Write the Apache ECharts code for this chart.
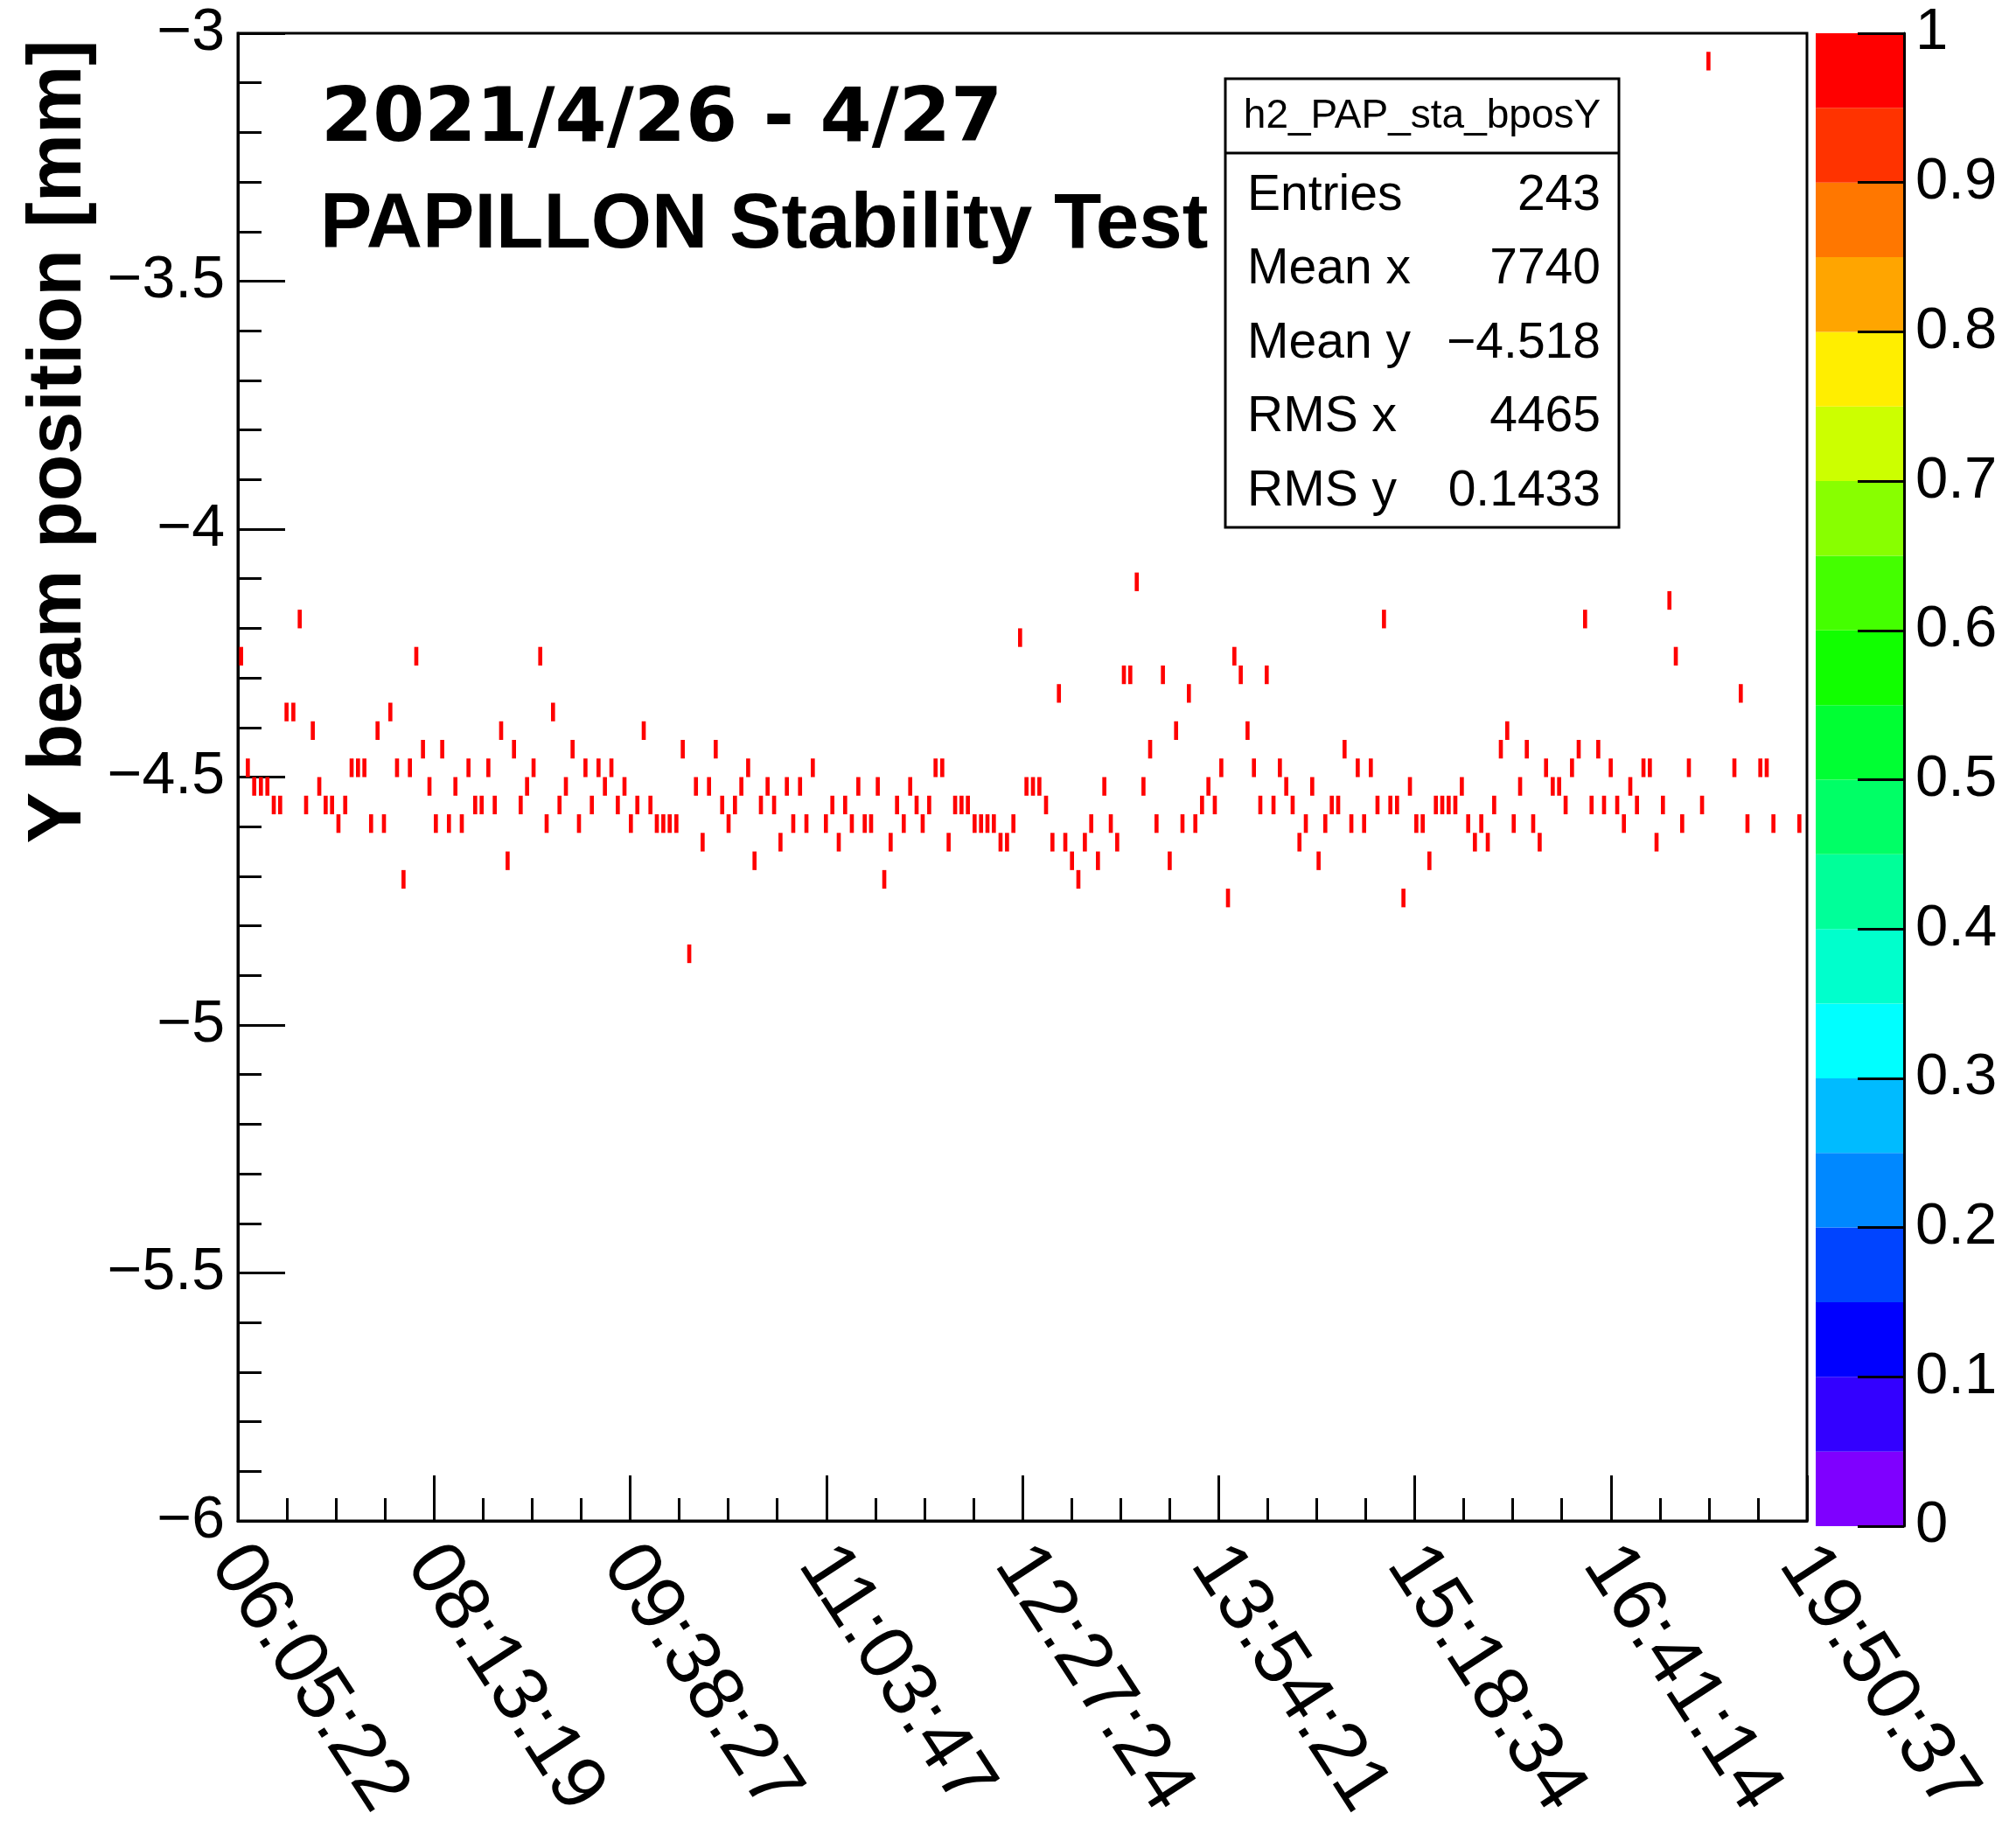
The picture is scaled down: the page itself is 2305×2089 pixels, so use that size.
<!DOCTYPE html>
<html>
<head>
<meta charset="utf-8">
<title>PAPILLON Stability Test</title>
<script src="https://cdn.jsdelivr.net/npm/echarts@6/dist/echarts.min.js"></script>
<style>
html,body{margin:0;padding:0;background:#fff;}
#main{width:2305px;height:2089px;}
</style>
</head>
<body>
<div id="main"></div>
<script>
//x轴的时间标签（8等分）
var timeLabels = ['06:05:22','08:13:19','09:38:27','11:03:47','12:27:24','13:54:21','15:18:34','16:41:14','19:50:37'];
var xMax = 15480;
var xStep = 1935;
var binW = 40;       //x方向的bin宽度
var binH = 0.0375;   //y方向的bin宽度 [mm]

//每个entry的x值
var entryX = [
	32,98,161,227,291,354,417,480,547,610,673,739,803,866,929,992,1059,1122,1185,1248,1314,1378,1441,1504,1570,1634,1697,1760,1826,1890,1953,2016,2082,2146,2209,
	2275,2341,2405,2471,2534,2597,2661,2724,2790,2853,2917,2983,3046,3109,3173,3236,3302,3365,3429,3492,3558,3621,3685,3748,3814,3877,3941,4004,4070,4133,4197,4260,4326,4389,4453,
	4519,4585,4648,4714,4778,4841,4904,4967,5034,5097,5160,5226,5290,5353,5416,5479,5546,5609,5672,5801,5865,5928,5991,6057,6121,6184,6247,6313,6377,6440,6503,6569,6633,6696,
	6756,6820,6883,6949,7012,7076,7139,7202,7268,7332,7395,7458,7524,7588,7651,7717,7780,7844,7907,7973,8036,8100,8163,8229,8292,8356,8419,8485,8548,8612,8675,8741,8804,8868,8934,
	9000,9063,9126,9193,9256,9319,9382,9446,9512,9575,9638,9702,9768,9831,9894,9961,10024,10087,10150,10217,10280,10343,10406,10473,10536,10599,10662,10728,10792,10855,10918,10985,11048,11111,11177,
	11243,11307,11370,11436,11499,11563,11626,11689,11755,11819,11882,11945,12011,12075,12138,12204,12267,12331,12394,12460,12523,12587,12650,12716,12779,12843,12906,12972,13035,13099,13162,13228,13291,13355,13421,
	13478,13544,13608,13674,13737,13803,13867,13930,13996,14059,14123,14186,14249,14315,14445,14508,14764,14827,14893,15020,15083,15149,15405
];
//每个entry的Y beam position (bin中心)
var bposY = [
	-4.25625,-4.48125,-4.51875,-4.51875,-4.51875,-4.55625,-4.55625,-4.36875,-4.36875,-4.18125,-4.55625,-4.40625,-4.51875,-4.55625,-4.55625,-4.59375,-4.55625,-4.48125,-4.48125,-4.48125,-4.59375,-4.40625,-4.59375,-4.36875,-4.48125,-4.70625,-4.48125,-4.25625,-4.44375,-4.51875,-4.59375,-4.44375,-4.59375,-4.51875,-4.59375,
	-4.48125,-4.55625,-4.55625,-4.48125,-4.55625,-4.40625,-4.66875,-4.44375,-4.55625,-4.51875,-4.48125,-4.25625,-4.59375,-4.36875,-4.55625,-4.51875,-4.44375,-4.59375,-4.48125,-4.55625,-4.48125,-4.51875,-4.48125,-4.55625,-4.51875,-4.59375,-4.55625,-4.40625,-4.55625,-4.59375,-4.59375,-4.59375,-4.59375,-4.44375,-4.85625,
	-4.51875,-4.63125,-4.51875,-4.44375,-4.55625,-4.59375,-4.55625,-4.51875,-4.48125,-4.66875,-4.55625,-4.51875,-4.55625,-4.63125,-4.51875,-4.59375,-4.51875,-4.59375,-4.48125,-4.59375,-4.55625,-4.63125,-4.55625,-4.59375,-4.51875,-4.59375,-4.59375,-4.51875,-4.70625,-4.63125,-4.55625,-4.59375,-4.51875,-4.55625,
	-4.59375,-4.55625,-4.48125,-4.48125,-4.63125,-4.55625,-4.55625,-4.55625,-4.59375,-4.59375,-4.59375,-4.59375,-4.63125,-4.63125,-4.59375,-4.21875,-4.51875,-4.51875,-4.51875,-4.55625,-4.63125,-4.33125,-4.63125,-4.66875,-4.70625,-4.63125,-4.59375,-4.66875,-4.51875,-4.59375,-4.63125,-4.29375,-4.29375,-4.10625,-4.51875,
	-4.44375,-4.59375,-4.29375,-4.66875,-4.40625,-4.59375,-4.33125,-4.59375,-4.55625,-4.51875,-4.55625,-4.48125,-4.74375,-4.25625,-4.29375,-4.40625,-4.48125,-4.55625,-4.29375,-4.55625,-4.48125,-4.51875,-4.55625,-4.63125,-4.59375,-4.51875,-4.66875,-4.59375,-4.55625,-4.55625,-4.44375,-4.59375,-4.48125,-4.59375,-4.48125,
	-4.55625,-4.18125,-4.55625,-4.55625,-4.74375,-4.51875,-4.59375,-4.59375,-4.66875,-4.55625,-4.55625,-4.55625,-4.55625,-4.51875,-4.59375,-4.63125,-4.59375,-4.63125,-4.55625,-4.44375,-4.40625,-4.59375,-4.51875,-4.44375,-4.59375,-4.63125,-4.48125,-4.51875,-4.51875,-4.55625,-4.48125,-4.44375,-4.18125,-4.55625,-4.44375,
	-4.55625,-4.48125,-4.55625,-4.59375,-4.51875,-4.55625,-4.48125,-4.48125,-4.63125,-4.55625,-4.14375,-4.25625,-4.59375,-4.48125,-4.55625,-3.05625,-4.48125,-4.33125,-4.59375,-4.48125,-4.48125,-4.59375,-4.59375
];
//调色板（从下到上）
var paletteLevels = [0,0.05,0.1,0.15,0.2,0.25,0.3,0.35,0.4,0.45,0.5,0.55,0.6,0.65,0.7,0.75,0.8,0.85,0.9,0.95,1];
var paletteColors = ['#7f00ff','#3300ff','#0000ff','#0044ff','#0088ff','#00bbff','#00ffff','#00ffcc','#00ff99','#00ff66',
	'#00ff33','#11ff00','#44ff00','#88ff00','#ccff00','#ffee00','#ffa500','#ff7700','#ff3300','#ff0000'];
//统计框
var statTitle = 'h2_PAP_sta_bposY';
var statNames = ['Entries','Mean x','Mean y','RMS x','RMS y'];
var statValues = ['243','7740','\u22124.518','4465','0.1433'];

var font = 'Liberation Sans, Arial, Helvetica, sans-serif';
var points = entryX.map(function(x,i){ return [x, bposY[i]] });
var bands = paletteColors.map(function(c,i){ return [paletteLevels[i], paletteLevels[i+1], i] });

var chart = echarts.init(document.getElementById('main'));

var graphics = [];
graphics.push({type:'text', x:367, y:139, style:{text:'2021/4/26 - 4/27', font:'bold 85px DejaVu Sans', fill:'#000', verticalAlign:'middle'}, z:10});
graphics.push({type:'text', x:366, y:258, style:{text:'PAPILLON Stability Test', font:'bold 89px ' + font, fill:'#000', verticalAlign:'middle'}, z:10});
graphics.push({type:'text', x:68, y:505, rotation:Math.PI/2, style:{text:'Y beam position [mm]', font:'bold 88px ' + font, fill:'#000', align:'center', verticalAlign:'middle'}, z:10});
//统计框
graphics.push({type:'rect', shape:{x:1401, y:90, width:450, height:513}, style:{fill:'#fff', stroke:'#000', lineWidth:3}, z:10});
graphics.push({type:'line', shape:{x1:1401, y1:175, x2:1851, y2:175}, style:{stroke:'#000', lineWidth:3}, z:11});
graphics.push({type:'text', x:1626, y:133, style:{text:statTitle, font:'46px ' + font, fill:'#000', align:'center', verticalAlign:'middle'}, z:11});
statNames.forEach(function(name,i){
	var cy = 224 + i*84.5;
	graphics.push({type:'text', x:1426, y:cy, style:{text:name, font:'57px ' + font, fill:'#000', verticalAlign:'middle'}, z:11});
	graphics.push({type:'text', x:1830, y:cy, style:{text:statValues[i], font:'57px ' + font, fill:'#000', align:'right', verticalAlign:'middle'}, z:11});
});

chart.setOption({
	backgroundColor:'#fff',
	animation:false,
	grid:[
		{left:272, right:239, top:38, bottom:344, show:true, borderColor:'#000', borderWidth:3, backgroundColor:'transparent'},
		{left:2076, right:128, top:38, bottom:344}
	],
	xAxis:[{
		type:'value', gridIndex:0, min:0, max:xMax, interval:xStep,
		axisLine:{show:true, onZero:false, lineStyle:{color:'#000', width:3}},
		axisTick:{show:true, inside:true, length:52, lineStyle:{color:'#000', width:3}},
		minorTick:{show:true, splitNumber:4, length:26, lineStyle:{color:'#000', width:3}},
		splitLine:{show:false},
		axisLabel:{
			rotate:-57, margin:28, color:'#000', fontSize:88, fontFamily:font,
			verticalAlign:'top', lineHeight:30,
			formatter:function(v){ return timeLabels[Math.round(v/xStep)] }
		}
	},{
		type:'value', gridIndex:1, min:0, max:1, show:false
	}],
	yAxis:[{
		type:'value', gridIndex:0, min:-6, max:-3, interval:0.5,
		axisLine:{show:true, onZero:false, lineStyle:{color:'#000', width:3}},
		axisTick:{show:true, inside:true, length:54, lineStyle:{color:'#000', width:3}},
		minorTick:{show:true, splitNumber:5, length:27, lineStyle:{color:'#000', width:3}},
		splitLine:{show:false},
		axisLabel:{
			margin:15, color:'#000', fontSize:68, fontFamily:font,
			formatter:function(v){ return String(v).replace('-','\u2212') }
		}
	},{
		//调色板的刻度放在色条之上
		type:'value', gridIndex:1, min:0, max:1, interval:0.1, position:'right', z:5,
		axisLine:{show:true, onZero:false, lineStyle:{color:'#000', width:3}},
		axisTick:{show:true, inside:true, length:53, lineStyle:{color:'#000', width:3}},
		splitLine:{show:false},
		axisLabel:{margin:13, color:'#000', fontSize:67, fontFamily:font}
	}],
	series:[{
		type:'custom',
		xAxisIndex:0, yAxisIndex:0,
		data:points,
		clip:true,
		renderItem:function(params,api){
			var x = api.value(0), y = api.value(1);
			var p1 = api.coord([x - binW/2, y + binH/2]);
			var p2 = api.coord([x + binW/2, y - binH/2]);
			return {type:'rect', shape:{x:p1[0], y:p1[1], width:p2[0]-p1[0], height:p2[1]-p1[1]}, style:{fill:'#ff0000'}};
		}
	},{
		type:'custom',
		xAxisIndex:1, yAxisIndex:1,
		data:bands,
		z:1,
		renderItem:function(params,api){
			var p1 = api.coord([0, api.value(1)]);
			var p2 = api.coord([1, api.value(0)]);
			return {type:'rect', shape:{x:p1[0], y:p1[1], width:p2[0]-p1[0], height:p2[1]-p1[1]}, style:{fill:paletteColors[api.value(2)]}};
		}
	}],
	graphic:graphics
});
</script>
</body>
</html>
